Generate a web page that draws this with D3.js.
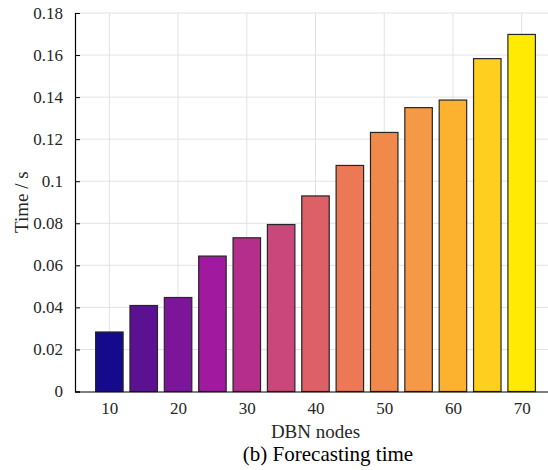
<!DOCTYPE html>
<html>
<head>
<meta charset="utf-8">
<script src="https://cdn.jsdelivr.net/npm/d3@7"></script>
<style>
  html, body { margin: 0; padding: 0; background: #fff; }
  svg { display: block; }
  svg text { font-family: "Liberation Serif", "Times New Roman", serif; }
</style>
</head>
<body>
<svg id="chart" width="548" height="470"></svg>
<script>
// DBN node counts and the forecasting time measured for each
const nodes = [10, 15, 20, 25, 30, 35, 40, 45, 50, 55, 60, 65, 70];
const times = [0.0283, 0.0409, 0.0447, 0.0644, 0.0731, 0.0794, 0.0930, 0.1075, 0.1232, 0.1350, 0.1386, 0.1583, 0.1698];
const barColors = ["#150a8c", "#5c1192", "#7c159a", "#a0199f", "#b42f8b", "#c9477a", "#dc6065",
                   "#ec7855", "#f0894a", "#f59946", "#fcb12f", "#fecf1f", "#ffea04"];
const xTicks = [10, 20, 30, 40, 50, 60, 70];
const yTicks = [0, 0.02, 0.04, 0.06, 0.08, 0.1, 0.12, 0.14, 0.16, 0.18];
const yTickLabels = ["0", "0.02", "0.04", "0.06", "0.08", "0.1", "0.12", "0.14", "0.16", "0.18"];

const svg = d3.select("#chart");
const plot = { left: 75, right: 556, top: 13, bottom: 391.5 };

const x = d3.scaleLinear().domain([5, 75]).range([plot.left, plot.right]);
const y = d3.scaleLinear().domain([0, 0.18]).range([plot.bottom, plot.top]);
const barW = (x(15) - x(10)) * 0.8;

// grid
const grid = svg.append("g").attr("stroke", "#e2e2e2").attr("stroke-width", 1);
grid.selectAll("line.gy").data(yTicks.slice(1)).join("line")
  .attr("x1", plot.left).attr("x2", plot.right)
  .attr("y1", d => y(d)).attr("y2", d => y(d));
grid.selectAll("line.gx").data(xTicks).join("line")
  .attr("x1", d => x(d)).attr("x2", d => x(d))
  .attr("y1", plot.top).attr("y2", plot.bottom);

// bars
svg.append("g").selectAll("rect").data(nodes).join("rect")
  .attr("x", (d) => x(d) - barW / 2)
  .attr("y", (d, i) => y(times[i]))
  .attr("width", barW)
  .attr("height", (d, i) => plot.bottom - y(times[i]))
  .attr("fill", (d, i) => barColors[i])
  .attr("stroke", "#262626")
  .attr("stroke-width", 1.2);

// y axis with inward ticks
const yAxis = d3.axisLeft(y).tickValues(yTicks)
  .tickFormat((d, i) => yTickLabels[i])
  .tickSize(-5).tickPadding(12);
const gy = svg.append("g").attr("transform", `translate(${plot.left},0)`).call(yAxis);
gy.attr("font-family", null);
gy.select(".domain").attr("stroke", "#000").attr("stroke-width", 1.2);
gy.selectAll(".tick line").attr("stroke", "#000");
gy.selectAll("text").style("font-size", "17px").attr("fill", "#262626");

// x axis
const xAxis = d3.axisBottom(x).tickValues(xTicks).tickSize(0).tickPadding(10)
  .tickFormat(d3.format("d"));
const gx = svg.append("g").attr("transform", `translate(0,${plot.bottom})`).call(xAxis);
gx.attr("font-family", null);
gx.select(".domain").attr("stroke", "#000").attr("stroke-width", 1.2);
gx.selectAll("text").style("font-size", "17px").attr("fill", "#262626");

// labels
svg.append("text")
  .attr("x", (plot.left + plot.right) / 2).attr("y", 438)
  .attr("text-anchor", "middle").style("font-size", "19px").attr("fill", "#262626")
  .text("DBN nodes");

svg.append("text")
  .attr("transform", `translate(28,${(plot.top + plot.bottom) / 2}) rotate(-90)`)
  .attr("text-anchor", "middle").style("font-size", "19px").attr("fill", "#262626")
  .text("Time / s");

svg.append("text")
  .attr("x", 328).attr("y", 461)
  .attr("text-anchor", "middle").style("font-size", "21px").attr("fill", "#000")
  .text("(b) Forecasting time");
</script>
</body>
</html>
